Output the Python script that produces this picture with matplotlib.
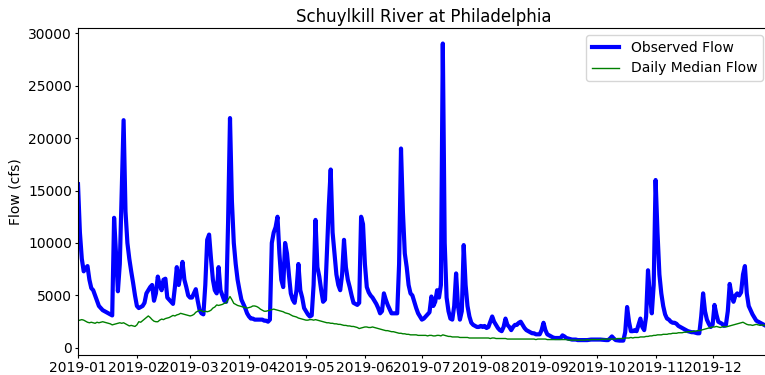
import matplotlib
matplotlib.use("Agg")
import matplotlib.pyplot as plt
import matplotlib.dates as mdates
import numpy as np
import pandas as pd

# Daily discharge, Schuylkill River at Philadelphia, calendar year 2019 (cfs)
start_date = "2019-01-01"
end_date = "2019-12-31"

observed_flow = [
    # Jan
    15600, 11000, 8500, 7300, 7600, 7800, 6500, 5700, 5500, 5000, 4500, 4000, 3800, 3600, 3500, 3400,
    3300, 3200, 3100, 12400, 9000, 5400, 8000, 15000, 21700, 13000, 10000, 8500, 7300, 6200, 5000,
    # Feb
    4000, 3800, 3900, 4000, 4300, 5200, 5500, 5800, 6000, 4500, 5200, 6800, 6000, 5500, 6500, 6600,
    4800, 4600, 4400, 4200, 5800, 7700, 6000, 7000, 8200, 6500, 5800, 5000,
    # Mar
    4800, 4800, 5200, 5600, 4500, 3600, 3300, 3200, 6000, 10300, 10800, 8500, 6500, 5500, 5200, 7700,
    5500, 5000, 4500, 4400, 12000, 21900, 14000, 10000, 8000, 6500, 5500, 4600, 4200, 3800, 3300,
    # Apr
    3000, 2800, 2800, 2700, 2700, 2700, 2700, 2700, 2600, 2600, 2500, 2700, 10000, 11000, 11500,
    12500, 9000, 6500, 5800, 10000, 9000, 7000, 5200, 4600, 4300, 5500, 8000, 5500, 4800, 3800,
    # May
    3500, 3200, 3000, 3100, 6000, 12200, 7700, 6800, 5500, 4400, 4600, 9000, 13500, 17000, 11000, 9000,
    7000, 6000, 5500, 7000, 10300, 7700, 6500, 5800, 5000, 4300, 4200, 4100, 4300, 12500, 11800,
    # Jun
    8000, 5800, 5300, 5000, 4800, 4500, 4200, 3800, 3300, 3500, 5200, 4600, 4100, 3700, 3300,
    3300, 3300, 3300, 8000, 19000, 13000, 9000, 7700, 6000, 5200, 5000, 4400, 3800, 3300, 3000,
    # Jul
    2700, 2800, 3000, 3200, 3400, 4900, 4000, 4400, 5500, 4800, 6000, 29000, 10000, 4800, 3500, 2800,
    2700, 4000, 7100, 4000, 2700, 3500, 9800, 6000, 4000, 3000, 2400, 2200, 2100, 2000, 2000,
    # Aug
    2100, 2000, 2100, 1900, 2000, 2500, 3000, 2500, 2200, 1900, 1700, 1600, 2000, 2800, 2200, 2000,
    1700, 2000, 2200, 2200, 2400, 2500, 2200, 1900, 1700, 1600, 1500, 1400, 1400, 1300, 1300,
    # Sep
    1300, 1700, 2400, 1700, 1300, 1200, 1100, 1000, 950, 950, 950, 950, 1200, 1100, 950,
    900, 850, 800, 800, 800, 750, 750, 750, 750, 750, 750, 780, 800, 800, 800,
    # Oct
    800, 800, 800, 780, 760, 750, 750, 900, 1100, 900, 750, 720, 700, 700, 700, 1500,
    3900, 2500, 1600, 1600, 1700, 1600, 2200, 2800, 2000, 1700, 3000, 7400, 5000, 3300, 6000,
    # Nov
    16000, 11000, 7000, 5200, 4000, 3200, 2800, 2700, 2500, 2400, 2400, 2300, 2100, 2000, 1900,
    1800, 1700, 1600, 1550, 1500, 1500, 1450, 1400, 1400, 3000, 5200, 3500, 2700, 2300, 2000,
    # Dec
    2200, 4100, 3200, 2500, 2400, 2300, 2100, 2200, 3500, 6100, 5000, 4400, 5000, 5200, 5000, 5300,
    7000, 7800, 5200, 4000, 3600, 3200, 2900, 2600, 2500, 2400, 2300, 2200, 2100, 2100, 2000,
]

median_flow = [
    # Jan
    2600, 2650, 2700, 2650, 2550, 2450, 2400, 2450, 2400, 2350, 2450, 2400, 2450, 2500, 2450, 2400,
    2350, 2300, 2200, 2250, 2300, 2350, 2400, 2350, 2400, 2300, 2200, 2100, 2150, 2100, 2050,
    # Feb
    2200, 2500, 2450, 2600, 2750, 2900, 3050, 2900, 2700, 2550, 2500, 2500, 2650, 2750, 2700, 2800,
    2850, 2900, 3000, 3100, 3050, 3150, 3200, 3300, 3250, 3200, 3150, 3100,
    # Mar
    3050, 3100, 3200, 3400, 3500, 3600, 3550, 3450, 3500, 3450, 3500, 3600, 3800, 3900, 4100, 4050,
    4100, 4150, 4250, 4300, 4600, 4900, 4600, 4250, 4150, 4050, 4000, 3950, 3900, 3850, 3800,
    # Apr
    3850, 3900, 4000, 4000, 3950, 3850, 3700, 3600, 3500, 3500, 3550, 3600, 3650, 3700, 3650,
    3600, 3550, 3500, 3450, 3350, 3300, 3250, 3150, 3050, 3000, 2950, 2850, 2800, 2750, 2700,
    # May
    2650, 2650, 2700, 2700, 2650, 2700, 2650, 2600, 2550, 2500, 2450, 2400, 2400, 2350, 2350, 2300,
    2300, 2250, 2250, 2200, 2150, 2150, 2100, 2100, 2050, 2050, 2000, 1950, 1850, 1900, 1950,
    # Jun
    2000, 2000, 1950, 1950, 2000, 1950, 1900, 1850, 1800, 1750, 1700, 1650, 1650, 1600, 1550,
    1550, 1500, 1450, 1400, 1400, 1350, 1350, 1300, 1300, 1250, 1250, 1250, 1250, 1200, 1200,
    # Jul
    1200, 1200, 1200, 1150, 1200, 1200, 1150, 1150, 1200, 1200, 1150, 1250, 1200, 1150, 1100, 1100,
    1050, 1050, 1050, 1050, 1000, 1000, 1000, 1000, 1000, 950, 950, 950, 950, 950, 950,
    # Aug
    950, 950, 950, 950, 950, 900, 950, 950, 900, 900, 900, 900, 900, 900, 850, 850,
    850, 850, 850, 850, 850, 850, 850, 850, 850, 850, 850, 850, 850, 800, 850,
    # Sep
    850, 850, 850, 850, 800, 800, 800, 800, 800, 800, 800, 800, 800, 800, 800,
    750, 750, 750, 750, 750, 750, 750, 750, 750, 750, 800, 750, 800, 800, 800,
    # Oct
    800, 800, 800, 850, 800, 850, 850, 850, 850, 850, 850, 900, 900, 900, 900, 950,
    950, 950, 1000, 950, 1000, 1000, 1000, 1050, 1050, 1050, 1100, 1100, 1150, 1150, 1200,
    # Nov
    1200, 1250, 1250, 1250, 1300, 1300, 1300, 1350, 1350, 1400, 1400, 1400, 1450, 1450, 1450,
    1500, 1500, 1550, 1550, 1550, 1600, 1600, 1650, 1650, 1700, 1750, 1800, 1850, 1900, 1950,
    # Dec
    2000, 2000, 2050, 2000, 1950, 2000, 2050, 2000, 2050, 2100, 2150, 2200, 2250, 2300, 2350, 2400,
    2450, 2350, 2250, 2200, 2200, 2150, 2200, 2250, 2200, 2150, 2200, 2150, 2150, 2150, 2150,
]

y_ticks = [0, 5000, 10000, 15000, 20000, 25000, 30000]

dates = pd.date_range(start_date, end_date, freq="D")
assert len(dates) == len(observed_flow) == len(median_flow), (
    len(dates), len(observed_flow), len(median_flow))

fig = plt.figure(figsize=(7.65, 3.75), dpi=100)
ax = fig.add_axes([78 / 765, 20 / 375, 691.6 / 765, 327 / 375])

ax.plot(dates, observed_flow, color="blue", linewidth=3, label="Observed Flow")
ax.plot(dates, median_flow, color="green", linewidth=1, label="Daily Median Flow")

ax.set_xlim(dates[0], dates[-1])
ax.set_ylim(-670, 30480)
ax.set_yticks(y_ticks)
ax.xaxis.set_major_locator(mdates.MonthLocator())
ax.xaxis.set_major_formatter(mdates.DateFormatter("%Y-%m"))
ax.tick_params(axis="both", length=2.5, pad=1.8)

ax.set_ylabel("Flow (cfs)")
ax.set_title("Schuylkill River at Philadelphia", fontsize=12, pad=4)
ax.legend(loc="upper right")

fig.savefig("out.png", dpi=100)
